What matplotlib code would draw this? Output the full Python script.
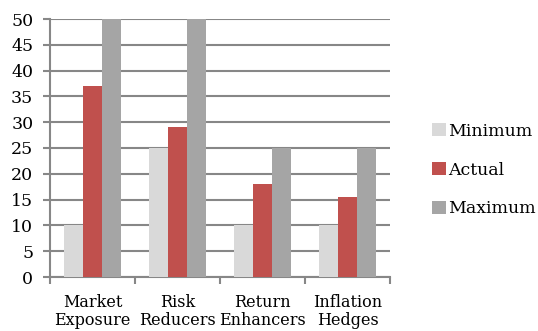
import matplotlib
matplotlib.use("Agg")
import matplotlib.pyplot as plt
import numpy as np

categories = ["Market\nExposure", "Risk\nReducers", "Return\nEnhancers", "Inflation\nHedges"]
minimum = [10, 25, 10, 10]
actual = [37, 29, 18, 15.5]
maximum = [50, 50, 25, 25]
yticks = list(range(0, 51, 5))

colors = ["#D9D9D9", "#C0504D", "#A5A5A5"]
series = [("Minimum", minimum), ("Actual", actual), ("Maximum", maximum)]

plt.rcParams['font.family'] = ['DejaVu Serif']
fig = plt.figure(figsize=(5.38, 3.31), dpi=100)
ax = fig.add_axes([50/538, 1-277/331, 340/538, 258/331])

x = np.arange(len(categories))
w = 0.224
for i, (name, vals) in enumerate(series):
    ax.bar(x + (i-1)*w, vals, width=w, color=colors[i], label=name, zorder=3)

ax.set_ylim(0, 50)
ax.set_xlim(-0.5, len(categories)-0.5)
ax.set_yticks(yticks)
ax.set_yticklabels([str(t) for t in yticks], fontsize=12.5)
ax.yaxis.grid(True, color="#878787", linewidth=1.5, zorder=0)
ax.set_axisbelow(True)

ax.set_xticks(np.arange(len(categories)+1) - 0.5)
ax.set_xticklabels([])
ax.set_xticks(x, minor=True)
ax.set_xticklabels(categories, minor=True, fontsize=11.5, linespacing=1.12)
ax.tick_params(axis='x', which='minor', length=0, pad=12)
ax.tick_params(axis='x', which='major', length=5, color="#878787", width=1.5)
ax.tick_params(axis='y', length=5, color="#878787", width=1.5, pad=7)

for s in ["top", "right"]:
    ax.spines[s].set_visible(False)
for s in ["left", "bottom"]:
    ax.spines[s].set_color("#878787")
    ax.spines[s].set_linewidth(1.5)

fig.legend(loc="center left", bbox_to_anchor=(432/538, 1-170/331), frameon=False,
           fontsize=12.5, handlelength=0.8, handleheight=0.75, handletextpad=0.1,
           labelspacing=1.25, borderaxespad=0, borderpad=0)

fig.savefig("out.png", dpi=100)
